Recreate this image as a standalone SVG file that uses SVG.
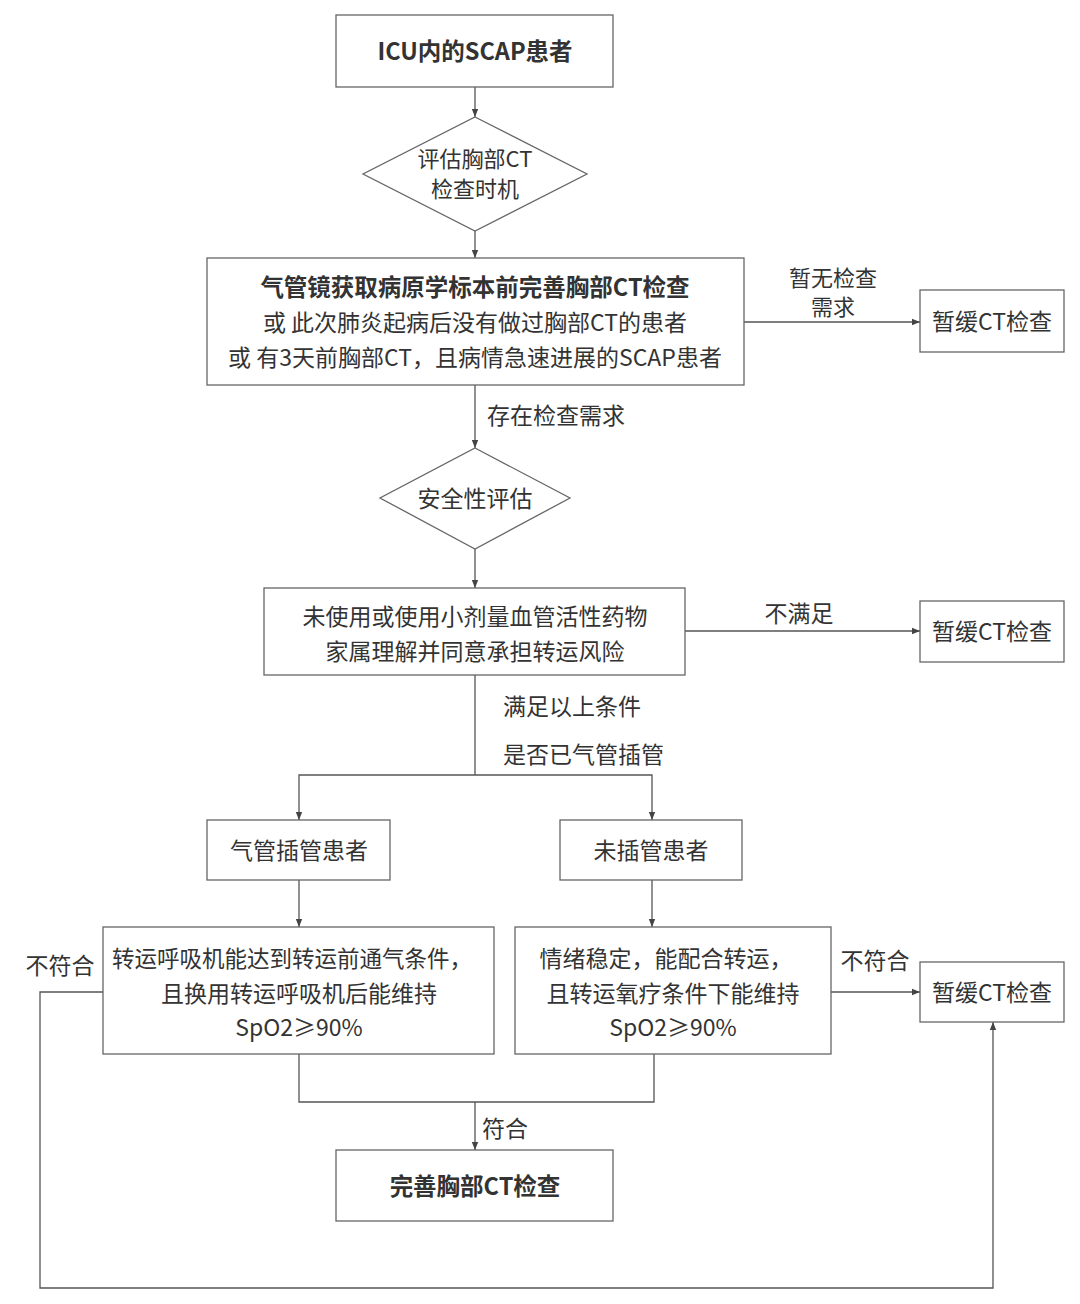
<svg xmlns="http://www.w3.org/2000/svg" width="1080" height="1304" viewBox="0 0 1080 1304">
<defs>
<marker id="arr" viewBox="0 0 10 10" refX="10" refY="5" markerWidth="8" markerHeight="8" markerUnits="userSpaceOnUse" orient="auto">
<path d="M0,1 L10,5 L0,9 z" fill="#444"/>
</marker>
<style>
.box{fill:#fff;stroke:#666;stroke-width:1.3}
.ln{fill:none;stroke:#555;stroke-width:1.3}
.ar{fill:none;stroke:#555;stroke-width:1.3;marker-end:url(#arr)}
text{font-family:"Noto Sans CJK SC","Noto Sans",sans-serif;font-size:23px;fill:#333;text-anchor:middle}
.b{font-weight:bold;font-size:23.5px}
.l{text-anchor:start}
.s{font-size:22px}
</style>
</defs>
<rect width="1080" height="1304" fill="#fff"/>

<g id="connectors">
<line class="ar" x1="475" y1="87" x2="475" y2="117"/>
<line class="ar" x1="475" y1="231" x2="475" y2="258"/>
<line class="ar" x1="744" y1="322" x2="920" y2="322"/>
<line class="ar" x1="475" y1="385" x2="475" y2="448"/>
<line class="ar" x1="475" y1="549" x2="475" y2="588"/>
<line class="ar" x1="685" y1="631" x2="920" y2="631"/>
<polyline class="ln" points="475,675 475,775"/>
<polyline class="ar" points="475,775 299,775 299,820"/>
<polyline class="ar" points="475,775 652,775 652,820"/>
<line class="ar" x1="299" y1="880" x2="299" y2="927"/>
<line class="ar" x1="652" y1="880" x2="652" y2="927"/>
<line class="ar" x1="831" y1="992" x2="920" y2="992"/>
<polyline class="ln" points="299,1054 299,1102 654,1102 654,1054"/>
<line class="ar" x1="475" y1="1102" x2="475" y2="1150"/>
<polyline class="ar" points="103,992 40,992 40,1288 993,1288 993,1022"/>
<text class="s" x="833" y="286">暂无检查</text>
<text class="s" x="833" y="315">需求</text>
<text class="l" x="487" y="424">存在检查需求</text>
<text x="799" y="622">不满足</text>
<text class="l" x="503" y="715">满足以上条件</text>
<text class="l" x="503" y="763">是否已气管插管</text>
<text x="875" y="969">不符合</text>
<text x="60" y="974">不符合</text>
<text x="505" y="1137">符合</text>
</g>

<g id="n1">
<rect class="box" x="336" y="15" width="277" height="72"/>
<text class="b" x="475" y="60">ICU内的SCAP患者</text>
</g>
<g id="n2">
<polygon class="box" points="475,117 587,174 475,231 363,174"/>
<text class="s" x="475" y="167">评估胸部CT</text>
<text class="s" x="475" y="197">检查时机</text>
</g>
<g id="n3">
<rect class="box" x="207" y="258" width="537" height="127"/>
<text class="b" x="475" y="296">气管镜获取病原学标本前完善胸部CT检查</text>
<text x="475" y="331">或 此次肺炎起病后没有做过胸部CT的患者</text>
<text x="475" y="366">或 有3天前胸部CT，且病情急速进展的SCAP患者</text>
</g>
<g id="n4">
<rect class="box" x="920" y="290" width="144" height="62"/>
<text x="992" y="330">暂缓CT检查</text>
</g>
<g id="n5">
<polygon class="box" points="475,448 570,498 475,549 380,498"/>
<text x="475" y="507">安全性评估</text>
</g>
<g id="n6">
<rect class="box" x="264" y="588" width="421" height="87"/>
<text x="475" y="625">未使用或使用小剂量血管活性药物</text>
<text x="475" y="660">家属理解并同意承担转运风险</text>
</g>
<g id="n7">
<rect class="box" x="920" y="601" width="144" height="61"/>
<text x="992" y="640">暂缓CT检查</text>
</g>
<g id="n8">
<rect class="box" x="207" y="820" width="183" height="60"/>
<text x="299" y="859">气管插管患者</text>
</g>
<g id="n9">
<rect class="box" x="560" y="820" width="182" height="60"/>
<text x="651" y="859">未插管患者</text>
</g>
<g id="n10">
<rect class="box" x="103" y="927" width="391" height="127"/>
<text x="292" y="967" textLength="360" lengthAdjust="spacingAndGlyphs">转运呼吸机能达到转运前通气条件，</text>
<text x="299" y="1002">且换用转运呼吸机后能维持</text>
<text x="299" y="1036">SpO2≥90%</text>
</g>
<g id="n11">
<rect class="box" x="515" y="927" width="316" height="127"/>
<text x="666" y="967">情绪稳定，能配合转运，</text>
<text x="673" y="1002">且转运氧疗条件下能维持</text>
<text x="673" y="1036">SpO2≥90%</text>
</g>
<g id="n12">
<rect class="box" x="920" y="962" width="144" height="60"/>
<text x="992" y="1001">暂缓CT检查</text>
</g>
<g id="n13">
<rect class="box" x="336" y="1150" width="277" height="71"/>
<text class="b" x="475" y="1195">完善胸部CT检查</text>
</g>
</svg>
